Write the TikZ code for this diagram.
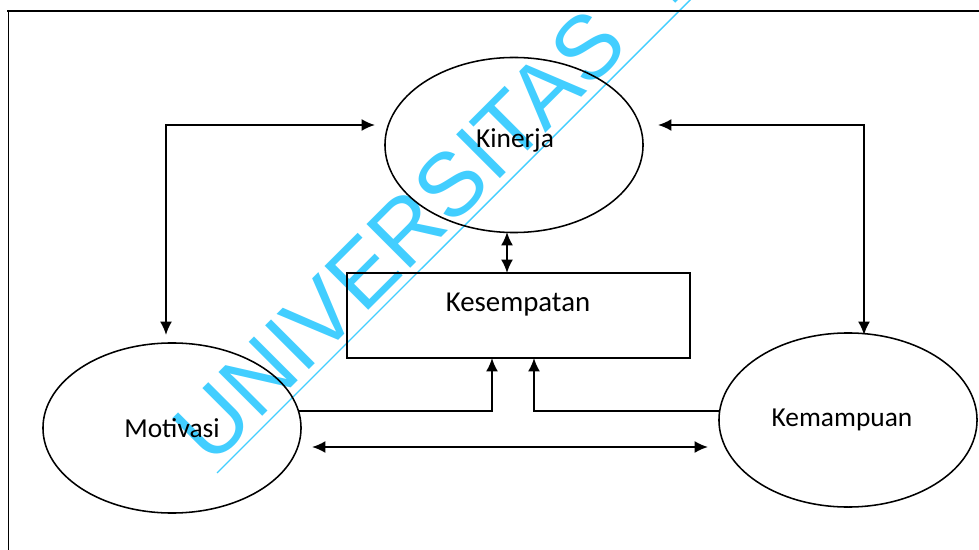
\documentclass[tikz,border=0pt]{standalone}
\usepackage{fontspec}
\setmainfont{Carlito}
\newfontfamily\wmfont{Liberation Sans}
\usetikzlibrary{arrows.meta,shapes.geometric,calc}

\definecolor{wmcyan}{RGB}{66,206,255}

\begin{document}
\begin{tikzpicture}[x=0.025cm,y=-0.025cm,
  oval/.style={draw,ellipse,line width=1.1pt,inner sep=0pt,minimum width=6.45cm},
  box/.style={draw,rectangle,line width=1.1pt,inner sep=0pt},
  lbl/.style={inner sep=0pt,font=\fontsize{19.5}{22}\selectfont},
  link/.style={line width=1.3pt,-{Latex[length=9.5pt,width=8.5pt]}},
  dlink/.style={line width=1.3pt,{Latex[length=9.5pt,width=8.5pt]}-{Latex[length=9.5pt,width=8.5pt]}},
  frame/.style={line width=#1,line cap=rect}
  ]
\useasboundingbox (0,0) rectangle (979,550);

% watermark behind the diagram
\begin{scope}
  \clip (0,0) rectangle (979,550);
  \coordinate (wmA) at (217,473);
  \coordinate (wmB) at (700,-10);
  \draw[wmcyan,line width=1pt] (wmA) -- (wmB);
  \node[wmcyan,anchor=base west,rotate=45,inner sep=0pt,
        font=\wmfont\fontsize{64}{64}\selectfont] (wm) at (211,468) {UNIVERSITAS\hspace{0.35em} M};
\end{scope}

% page frame
\coordinate (fTL) at (8.5,11);
\coordinate (fTR) at (979,11);
\coordinate (fBL) at (8.5,550);
\draw[frame=2.1pt] (fTL) -- (fTR);
\draw[frame=1.1pt] (fTL) -- (fBL);

% shapes
\node[oval,minimum height=4.375cm] (kin) at (514,145) {};
\node[oval,minimum height=4.25cm] (mot) at (172,428) {};
\node[oval,minimum height=4.35cm] (kem) at (848,420) {};
\node[box,minimum width=8.575cm,minimum height=2.125cm] (kes) at (518.5,315.5) {};

% labels
\node[lbl] (kintxt) at (515,140) {Kinerja};
\node[lbl] (mottxt) at (172,428) {Motivasi};
\node[lbl] (kemtxt) at (842,420) {Kemampuan};
\node[lbl,font=\fontsize{20.5}{23}\selectfont] (kestxt) at (518,305) {Kesempatan};

% connector end points
\coordinate (kinL) at (375,125);
\coordinate (motT) at (166,335);
\coordinate (kinR) at (658,125);
\coordinate (kemT) at (864,335);
\coordinate (kinB) at (507,232);
\coordinate (kesT) at (507,273);
\coordinate (motR) at (299,411);
\coordinate (kesBL) at (492,358);
\coordinate (kemL) at (720,411);
\coordinate (kesBR) at (534,358);
\coordinate (motE) at (312,447);
\coordinate (kemW) at (708,447);

% connectors
\draw[dlink] (kinL) -| (motT);
\draw[dlink] (kinR) -| (kemT);
\draw[dlink] (kinB) -- (kesT);
\draw[link] (motR) -| (kesBL);
\draw[link] (kemL) -| (kesBR);
\draw[dlink] (motE) -- (kemW);
\end{tikzpicture}
\end{document}
